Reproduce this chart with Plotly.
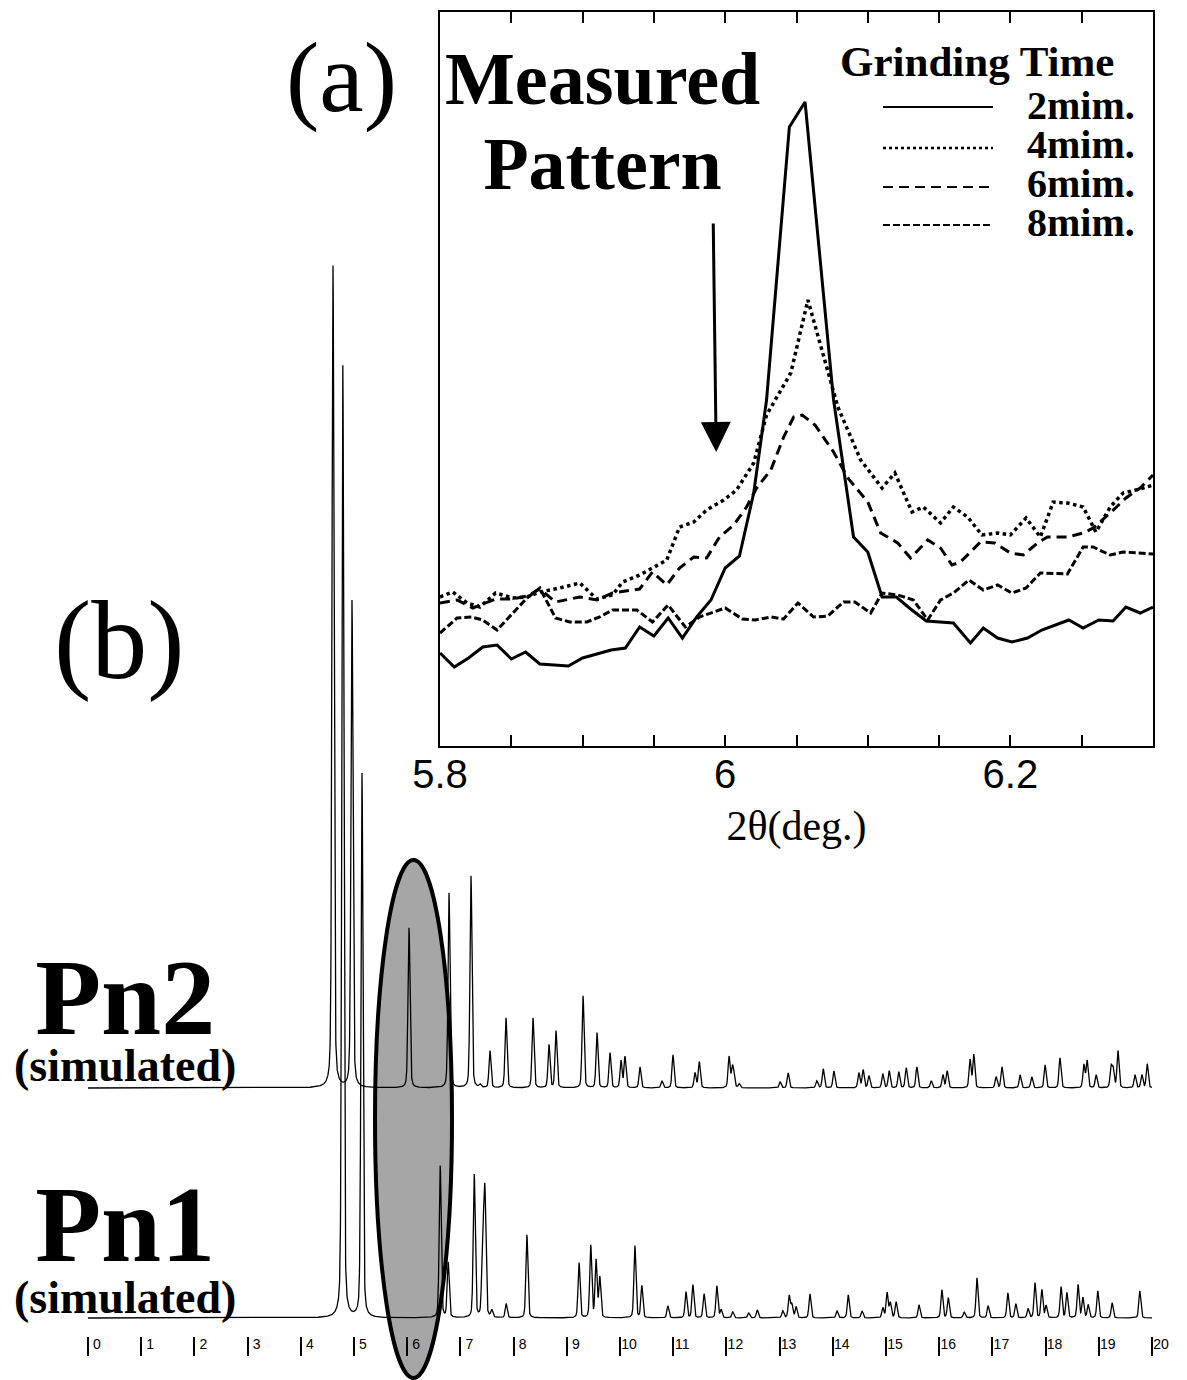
import numpy as np
import plotly.graph_objects as go

W, H = 1187, 1380

# ---------------- (a) measured pattern (2theta in deg, intensity arb.) ----------------
t2_x = [5.800,5.810,5.820,5.830,5.840,5.850,5.860,5.870,5.890,5.900,5.910,5.920,5.930,5.940,5.950,5.960,5.970,5.980,5.990,6.000,6.010,6.020,6.029,6.045,6.056,6.076,6.090,6.100,6.110,6.120,6.130,6.141,6.160,6.172,6.181,6.191,6.201,6.212,6.222,6.232,6.241,6.251,6.262,6.272,6.281,6.291,6.300]
t2_y = [47,33,42,53,55,41,48,36,34,42,46,50,52,73,64,82,62,83,100,132,144,207,300,573,598,300,163,148,103,103,91,79,77,57,72,62,58,62,70,75,80,72,80,79,93,87,93]

t4_x = [5.800,5.809,5.819,5.828,5.839,5.851,5.861,5.870,5.884,5.898,5.910,5.921,5.928,5.940,5.949,5.959,5.968,5.978,5.987,5.999,6.008,6.020,6.029,6.046,6.058,6.070,6.079,6.095,6.110,6.119,6.131,6.139,6.151,6.160,6.170,6.180,6.191,6.200,6.211,6.221,6.230,6.240,6.251,6.260,6.270,6.279,6.291,6.300]
t4_y = [103,108,97,93,107,102,103,108,112,117,101,105,118,125,132,140,173,178,190,200,210,237,285,327,400,340,293,240,212,227,188,193,177,193,183,165,167,165,182,163,198,197,193,168,193,207,211,215]

t6_x = [5.800,5.812,5.823,5.839,5.851,5.861,5.870,5.881,5.898,5.910,5.921,5.940,5.949,5.959,5.968,5.978,5.987,5.996,6.006,6.015,6.022,6.032,6.041,6.048,6.054,6.063,6.076,6.086,6.100,6.109,6.121,6.130,6.142,6.151,6.159,6.165,6.179,6.189,6.200,6.209,6.219,6.226,6.240,6.251,6.258,6.270,6.281,6.291,6.300]
t6_y = [97,100,92,101,101,104,111,98,103,100,107,111,128,115,132,143,142,163,175,193,212,230,263,283,285,275,248,222,198,167,157,142,160,152,135,138,158,157,147,145,157,163,163,167,172,187,202,212,225]

t8_x = [5.800,5.812,5.822,5.830,5.840,5.851,5.861,5.870,5.881,5.891,5.903,5.912,5.921,5.938,5.949,5.960,5.972,5.982,6.000,6.012,6.021,6.032,6.041,6.051,6.062,6.072,6.083,6.091,6.102,6.110,6.121,6.132,6.142,6.151,6.160,6.171,6.181,6.191,6.201,6.211,6.221,6.240,6.251,6.258,6.270,6.279,6.300]
t8_y = [67,82,83,80,70,87,102,112,82,78,78,83,90,90,78,95,73,83,92,81,80,83,81,97,83,84,98,98,87,107,105,100,80,100,107,120,110,115,107,112,127,126,153,153,145,148,146]

legend_labels = ["2mim.", "4mim.", "6mim.", "8mim."]
inset_tickvals = [5.8, 6.0, 6.2]
inset_ticktext = ["5.8", "6", "6.2"]

# ---------------- (b) simulated patterns: peak positions (deg) and heights ----------------
pn2_pos = [4.605,4.962,6.034,6.786,7.199,7.37,7.556,7.857,8.365,8.665,8.797,9.305,9.568,9.812,10.019,10.094,10.376,10.789,10.996,11.41,11.49,
           12.05,12.11,12.14,12.24,13.01,13.16,13.70,13.82,14.02,14.49,14.57,14.68,14.94,15.06,15.24,15.38,15.58,15.85,16.07,16.15,
           16.58,16.65,17.07,17.18,17.52,17.74,17.99,18.27,18.72,18.78,18.95,19.23,19.27,19.36,19.68,19.81,19.91]
pn2_h = [822,487,160,195,212,3,37,70,70,43,57,92,55,35,27,31,21,7,33,15,26,
         31,18,12,4,6,15,7,19,17,15,18,12,14,17,16,20,21,7,13,17,
         28,33,11,21,13,11,23,30,23,27,13,21,18,37,13,13,24]

pn1_pos = [4.79,5.15,6.62,6.77,7.26,7.42,7.46,7.59,7.86,8.25,9.23,9.45,9.55,9.62,10.28,10.41,10.90,11.24,11.37,11.58,11.82,11.90,
           12.12,12.42,12.58,13.06,13.18,13.23,13.31,13.57,14.08,14.29,14.55,14.94,15.02,15.08,15.19,15.62,16.05,16.17,16.47,
           16.71,16.92,17.29,17.44,17.67,17.80,17.93,18.01,18.29,18.40,18.61,18.70,18.80,18.98,19.25,19.77]
pn1_h = [952,544,152,55,143,81,122,7,14,83,55,72,57,40,72,32,12,26,33,24,32,8,
         6,5,8,7,22,13,11,24,7,23,7,10,25,15,16,13,28,20,6,
         40,12,25,14,9,35,28,12,31,25,33,20,13,27,15,27]

bottom_ticks = list(range(0, 21))

# vertical offsets of the two stacked patterns (y2 axis units)
PN1_OFFSET = 18
PN2_OFFSET = 248
HWHM = 0.022
ETA = 0.3


def pattern(pos, hts, offset):
    x = np.union1d(np.linspace(0, 20, 8001), np.array(pos))
    y = np.full(x.shape, float(offset))
    for c, h in zip(pos, hts):
        d = (x - c) / HWHM
        y += h * (ETA / (1 + d ** 2) + (1 - ETA) * np.exp(-np.log(2) * d ** 2))
    return x, y


fig = go.Figure()

styles = [
    dict(color="black", width=3, dash="solid"),
    dict(color="black", width=3.5, dash="dot"),
    dict(color="black", width=3, dash="10px,6px"),
    dict(color="black", width=3, dash="7px,3px"),
]
for (xs, ys), st, lab in zip([(t2_x, t2_y), (t4_x, t4_y), (t6_x, t6_y), (t8_x, t8_y)], styles, legend_labels):
    fig.add_trace(go.Scatter(x=xs, y=ys, mode="lines", line=st, name=lab,
                             xaxis="x", yaxis="y", showlegend=False))

for pos, hts, off in [(pn2_pos, pn2_h, PN2_OFFSET), (pn1_pos, pn1_h, PN1_OFFSET)]:
    px_, py_ = pattern(pos, hts, off)
    fig.add_trace(go.Scatter(x=px_, y=py_, mode="lines", line=dict(color="black", width=1.3),
                             xaxis="x2", yaxis="y2", showlegend=False))

serif = "Liberation Serif"
sans = "Liberation Sans"

def P(px):
    return px / W

def Q(py):
    return 1 - py / H

def sized(txt, size):
    return '<span style="font-size:%dpx">%s</span>' % (size, txt)

annotations = [
    dict(text="(a)", x=P(341), y=Q(77), font=dict(family=serif, size=100)),
    dict(text="<b>%s<br>%s</b>" % (sized("Measured", 74), sized("Pattern", 74)),
         x=P(603), y=Q(122), font=dict(family=serif, size=65)),
    dict(text="<b>Grinding Time</b>", x=P(977), y=Q(61), font=dict(family=serif, size=43)),
    dict(text="(b)", x=P(119), y=Q(640), font=dict(family=serif, size=112)),
    dict(text="<b>%s<br>%s</b>" % (sized("Pn2", 108), sized("(simulated)", 46)),
         x=P(125), y=Q(1014), font=dict(family=serif, size=36)),
    dict(text="<b>%s<br>%s</b>" % (sized("Pn1", 108), sized("(simulated)", 46)),
         x=P(125), y=Q(1244), font=dict(family=serif, size=40)),
    dict(text="<b>%s</b>" % "<br>".join(sized(l, 40) for l in legend_labels),
         x=P(1137), y=Q(164), xanchor="right", align="right", font=dict(family=serif, size=30)),
]
for a in annotations:
    a.setdefault("xanchor", "center")
    a.setdefault("align", "center")
    a.update(xref="paper", yref="paper", showarrow=False, yanchor="middle")
    a["font"]["color"] = "black"

leg_y = [105, 146, 185, 223]
shapes = []
for ly, st in zip(leg_y, styles):
    shapes.append(dict(type="line", xref="paper", yref="paper", x0=P(883), x1=P(993),
                       y0=Q(ly + 2), y1=Q(ly + 2),
                       line=dict(color="black", width=st["width"] - 0.8, dash=st["dash"])))

# arrow in the inset
annotations.append(dict(x=5.9937, y=248, xref="x", yref="y", text="", showarrow=True,
                        ax=-3, ay=-230, arrowhead=2, arrowsize=2, arrowwidth=3, arrowcolor="black"))

# highlighting ellipse in (b)
shapes.append(dict(type="circle", xref="paper", yref="paper", layer="below",
                   x0=P(375), x1=P(452), y0=Q(1378), y1=Q(860),
                   fillcolor="#a6a6a6", line=dict(color="black", width=4)))

fig.update_layout(
    width=W, height=H, margin=dict(l=0, r=0, t=0, b=0, pad=0, autoexpand=False),
    paper_bgcolor="white", plot_bgcolor="rgba(0,0,0,0)",
    font=dict(color="black", family=serif),
    showlegend=False,
    annotations=annotations, shapes=shapes,
    xaxis=dict(domain=[P(440), P(1153)], range=[5.8, 6.3], anchor="y", automargin=False,
               showline=True, linecolor="black", linewidth=2, mirror="ticks",
               showgrid=False, zeroline=False,
               tickmode="array", tickvals=inset_tickvals, ticktext=inset_ticktext,
               ticks="inside", ticklen=11, tickwidth=2, tickcolor="black",
               minor=dict(ticks="inside", ticklen=11, tickwidth=2, tickcolor="black", dtick=0.05, tick0=5.8),
               tickfont=dict(family=sans, size=40, color="black"), ticklabelstandoff=-8,
               title=dict(text="2θ(deg.)", font=dict(family=serif, size=42, color="black"), standoff=16)),
    yaxis=dict(domain=[Q(746), Q(12)], range=[-46, 688], anchor="x", automargin=False,
               showline=True, linecolor="black", linewidth=2, mirror=True,
               showgrid=False, zeroline=False, showticklabels=False, ticks=""),
    xaxis2=dict(domain=[0, 1], range=[-88 / 53.2, (W - 88) / 53.2], anchor="y2", automargin=False,
                showline=False, showgrid=False, zeroline=False,
                tickmode="array", tickvals=bottom_ticks, ticktext=[str(t) for t in bottom_ticks],
                ticks="outside", ticklen=19, tickwidth=2, tickcolor="black",
                tickfont=dict(family=sans, size=14, color="black"),
                ticklabelshift=9, ticklabelstandoff=-24),
    yaxis2=dict(domain=[Q(1336), 1], range=[0, 1336], anchor="x2", automargin=False,
                showline=False, showgrid=False, zeroline=False, showticklabels=False, ticks=""),
)

fig.write_html("out.html")
